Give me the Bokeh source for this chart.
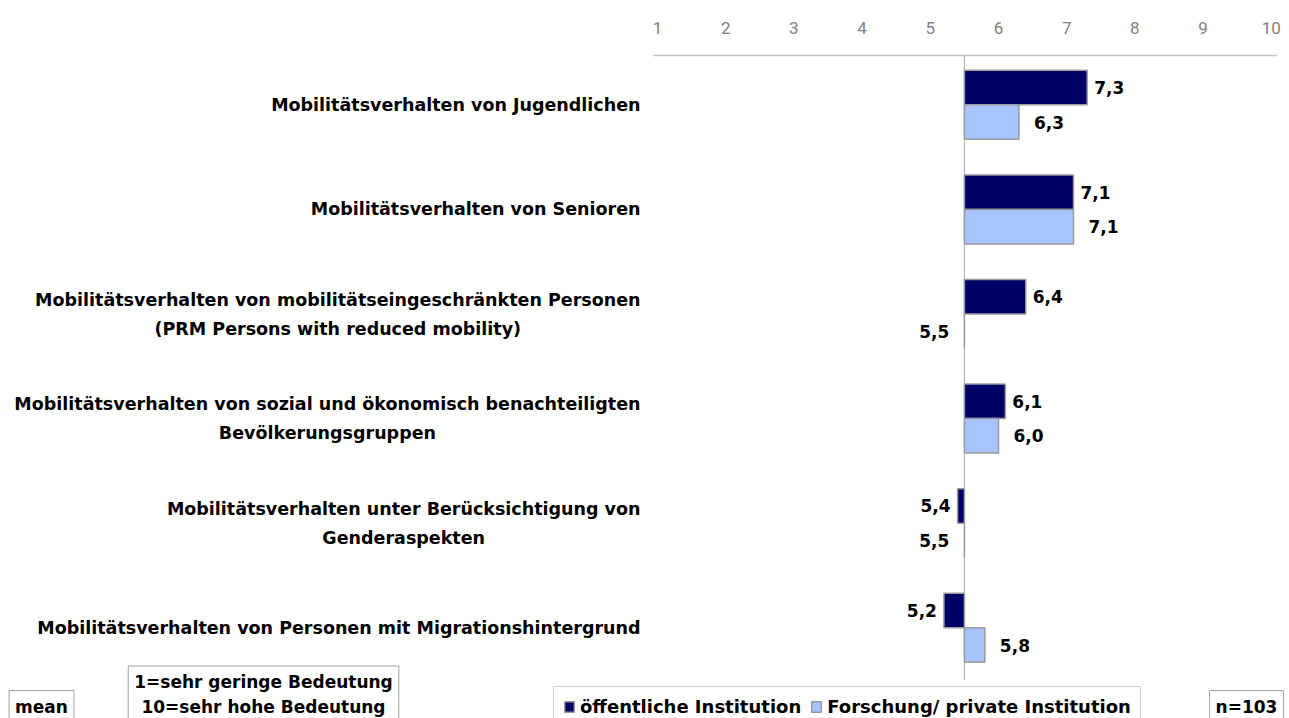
from bokeh.plotting import figure
from bokeh.models import (ColumnDataSource, Range1d, LinearAxis, FixedTicker,
                          Legend, LegendItem, Label)
from bokeh.transform import dodge
from bokeh.core.properties import value
from bokeh.embed import file_html
from bokeh.resources import INLINE

# ---------------- data ----------------
categories = [
    "Mobilitätsverhalten von Jugendlichen",
    "Mobilitätsverhalten von Senioren",
    "Mobilitätsverhalten von mobilitätseingeschränkten Personen\n(PRM Persons with reduced mobility)",
    "Mobilitätsverhalten von sozial und ökonomisch benachteiligten\nBevölkerungsgruppen",
    "Mobilitätsverhalten unter Berücksichtigung von\nGenderaspekten",
    "Mobilitätsverhalten von Personen mit Migrationshintergrund",
]
public_values = [7.3, 7.1, 6.4, 6.1, 5.4, 5.2]
research_values = [6.3, 7.1, 5.5, 6.0, 5.5, 5.8]
series_names = ["öffentliche Institution", "Forschung/ private Institution"]
ticks = [1, 2, 3, 4, 5, 6, 7, 8, 9, 10]
baseline = 5.5
scale_note = "1=sehr geringe Bedeutung\n10=sehr hohe Bedeutung"
stat_label = "mean"
n_label = "n=103"

# ---------------- layout constants ----------------
W, H = 1289, 718
TOP = 52                      # frame top inside figure
PPX = 68.2                    # px per x unit
PPY = 104.6                   # px per category
X0 = ticks[0] - 657 / PPX
X1 = X0 + W / PPX
Y_TOP = 0.5
Y_BOTTOM = Y_TOP + (H - TOP) / PPY


def px2x(px):  # canvas x -> data x
    return X0 + px / PPX


def px2y(py):  # canvas y -> data y
    return Y_TOP + (py - TOP) / PPY


DARK = "#000066"
LIGHT = "#a6c4ff"
EDGE = "#9a9a9a"
FONT = "DejaVu Sans"

p = figure(width=W, height=H, x_range=Range1d(X0, X1),
           y_range=Range1d(Y_BOTTOM, Y_TOP),
           output_backend="svg", toolbar_location=None,
           x_axis_location=None, y_axis_location=None,
           min_border_left=0, min_border_right=0, min_border_bottom=0,
           min_border_top=TOP)
p.outline_line_color = None
p.xgrid.visible = False
p.ygrid.visible = False
p.background_fill_color = "white"

axis = LinearAxis(ticker=FixedTicker(ticks=ticks),
                  axis_line_color=None, major_tick_line_color=None,
                  minor_tick_line_color=None, major_tick_out=0, major_tick_in=0,
                  major_label_text_font="Roboto",
                  major_label_text_font_size="17px",
                  major_label_text_color="#808080",
                  major_label_standoff=19)
p.add_layout(axis, "above")

# top rule and baseline
p.segment(x0=[ticks[0] - 0.06], x1=[ticks[-1] + 0.08], y0=[px2y(55)], y1=[px2y(55)],
          line_color="#c4c4c4", line_width=1.5)

ys = list(range(1, len(categories) + 1))
p.segment(x0=[baseline], x1=[baseline], y0=[px2y(55)], y1=[ys[-1] + 0.5],
          line_color="#a8a8a8", line_width=1)

src = ColumnDataSource(dict(y=ys, pub=public_values, res=research_values,
                            base=[baseline] * len(ys)))

BH = 0.33
r_pub = p.hbar(y=dodge("y", -BH / 2), left="base", right="pub", height=BH,
               fill_color=DARK, line_color=EDGE, line_width=1.5, source=src)
r_res = p.hbar(y=dodge("y", BH / 2), left="base", right="res", height=BH,
               fill_color=LIGHT, line_color=EDGE, line_width=1.5, source=src)

# value labels
def label_source(vals, off):
    return ColumnDataSource(dict(
        y=ys, x=vals,
        txt=[f"{v:.1f}".replace(".", ",") for v in vals],
        align=["left" if v > baseline else "right" for v in vals],
        xo=[off if v > baseline else -off for v in vals],
    ))

for vals, off, d in [(public_values, 7, -BH / 2), (research_values, 15, BH / 2)]:
    p.text(x="x", y=dodge("y", d), text="txt", source=label_source(vals, off),
           x_offset="xo", text_align="align", text_baseline="middle",
           text_font=value(FONT), text_font_style="bold",
           text_font_size="17px", text_color="black")

# category labels
p.text(x=[px2x(640)] * len(ys), y=ys, text=categories,
       anchor=value("center_right"), text_align="center",
       text_baseline="middle", text_font=value(FONT), text_font_style="bold",
       text_font_size="17.5px", text_line_height=1.45, text_color="black")

# bottom boxes
box_style = dict(x_units="data", y_units="data", text_font=FONT,
                 text_font_style="bold", text_font_size="17px",
                 text_color="black", text_align="center", text_baseline="middle",
                 border_line_color="#a0a0a0", border_line_width=1,
                 background_fill_color="white", padding=6)
p.add_layout(Label(x=px2x(41), y=px2y(706), text=stat_label, **box_style))
p.add_layout(Label(x=px2x(263), y=px2y(694), text=scale_note,
                   text_line_height=1.25, **box_style))
p.add_layout(Label(x=px2x(1246), y=px2y(706), text=n_label, **box_style))

legend = Legend(items=[LegendItem(label=series_names[0], renderers=[r_pub]),
                       LegendItem(label=series_names[1], renderers=[r_res])],
                orientation="horizontal", location=(553, -9),
                border_line_color="#a0a0a0", border_line_width=1,
                background_fill_color="white", background_fill_alpha=1,
                label_text_font=FONT, label_text_font_style="bold",
                label_text_font_size="18px", label_text_color="black",
                glyph_width=12, glyph_height=13, padding=9, spacing=9,
                label_standoff=5, margin=0)
p.add_layout(legend)

open("out.html", "w").write(file_html(p, INLINE))
